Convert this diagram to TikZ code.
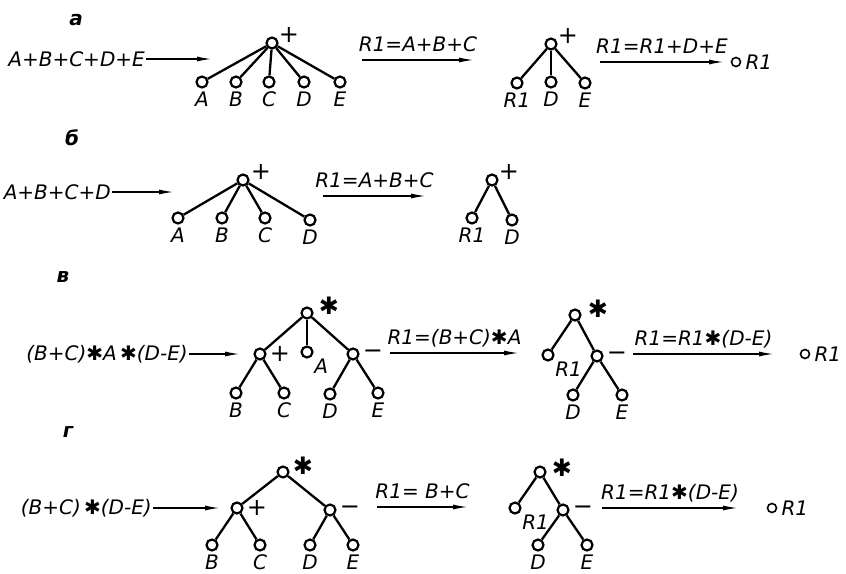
\documentclass[tikz,border=0pt]{standalone}
\usepackage{fontspec}
\setmainfont{DejaVu Sans}
\usetikzlibrary{positioning, arrows.meta}

\begin{document}
\begin{tikzpicture}[x=1pt, y=-1pt, font=\fontsize{20}{23}\selectfont\itshape,
    every node/.style={inner sep=1pt},
    label distance=2pt,
    tnode/.style={circle, draw, line width=2.2pt, inner sep=0pt, minimum size=11pt},
    res/.style={circle, draw, line width=1.6pt, inner sep=0pt, minimum size=9pt},
    op/.style={inner sep=0pt, font=\fontsize{24}{26}\selectfont},
    sec/.style={font=\fontsize{20}{23}\selectfont\bfseries\itshape},
    edge/.style={line width=2.3pt},
    arr/.style={line width=1.5pt, -{Latex[length=15pt,width=5pt]}},
    lab/.style={above=7pt, text depth=0pt}]
  \useasboundingbox (0,0) rectangle (846,573);

  % a
  \node[sec] (la) at (76,20) {а};
  \node[anchor=east] (ea) at (146,59) {A+B+C+D+E};
  \coordinate (ea1) at (212,59);
  \draw[arr] (ea) -- (ea1);
  \node[tnode] (ar) at (272,43) {};
  \node[op] (aop) at (289,35) {+};
  \node[tnode, label=below:A] (aa) at (202,82) {};
  \node[tnode, label=below:B] (ab) at (236,82) {};
  \node[tnode, label=below:C] (ac) at (269,82) {};
  \node[tnode, label=below:D] (ad) at (304,82) {};
  \node[tnode, label=below:E] (ae) at (340,82) {};
  \foreach \n in {aa,ab,ac,ad,ae}
    \draw[edge] (ar) -- (\n);
  \coordinate (am1) at (362,60);
  \coordinate (am2) at (474,60);
  \draw[arr] (am1) -- node[lab] {R1=A+B+C} (am2);
  \node[tnode] (br) at (551,44) {};
  \node[op] (bop) at (568,36) {+};
  \node[tnode, label=below:R1] (b1) at (517,83) {};
  \node[tnode, label=below:D] (bd) at (551,82) {};
  \node[tnode, label=below:E] (be) at (585,83) {};
  \foreach \n in {b1,bd,be}
    \draw[edge] (br) -- (\n);
  \coordinate (am3) at (600,62);
  \coordinate (am4) at (724,62);
  \draw[arr] (am3) -- node[lab] {R1=R1+D+E} (am4);
  \node[res] (ares) at (736,62) {};
  \node[right=3pt of ares] (ares1) {R1};

  % b
  \node[sec] (lb) at (72,138) {б};
  \node[anchor=east] (eb) at (112,192) {A+B+C+D};
  \coordinate (eb1) at (174,192);
  \draw[arr] (eb) -- (eb1);
  \node[tnode] (cr) at (243,180) {};
  \node[op] (cop) at (261,172) {+};
  \node[tnode, label=below:A] (ca) at (178,218) {};
  \node[tnode, label=below:B] (cb) at (222,218) {};
  \node[tnode, label=below:C] (cc) at (265,218) {};
  \node[tnode, label=below:D] (cd) at (310,220) {};
  \foreach \n in {ca,cb,cc,cd}
    \draw[edge] (cr) -- (\n);
  \coordinate (bm1) at (323,196);
  \coordinate (bm2) at (426,196);
  \draw[arr] (bm1) -- node[lab] {R1=A+B+C} (bm2);
  \node[tnode] (dr) at (492,180) {};
  \node[op] (dop) at (509,172) {+};
  \node[tnode, label=below:R1] (d1) at (472,218) {};
  \node[tnode, label=below:D] (dd) at (512,220) {};
  \foreach \n in {d1,dd}
    \draw[edge] (dr) -- (\n);

  % v
  \node[sec] (lv) at (63,277) {в};
  \node[anchor=east] (ev) at (189,354) {(B+C)✱A\,✱(D-E)};
  \coordinate (ev1) at (240,354);
  \draw[arr] (ev) -- (ev1);
  \node[tnode] (vr) at (307,313) {};
  \node[op] (vop) at (329,306) {✱};
  \node[tnode] (v1) at (260,354) {};
  \node[op, right=3pt of v1] (v1op) {+};
  \node[tnode, label={below right:A}] (va) at (307,352) {};
  \node[tnode] (v2) at (353,354) {};
  \node[op, right=3pt of v2] (v2op) {−};
  \node[tnode, label=below:B] (vb) at (236,393) {};
  \node[tnode, label=below:C] (vc) at (284,393) {};
  \node[tnode, label=below:D] (vd) at (330,394) {};
  \node[tnode, label=below:E] (ve) at (378,393) {};
  \foreach \a/\b in {vr/v1,vr/va,vr/v2,v1/vb,v1/vc,v2/vd,v2/ve}
    \draw[edge] (\a) -- (\b);
  \coordinate (vm1) at (390,353);
  \coordinate (vm2) at (519,353);
  \draw[arr] (vm1) -- node[lab] {R1=(B+C)✱A} (vm2);
  \node[tnode] (wr) at (575,315) {};
  \node[op] (wop) at (598,309) {✱};
  \node[tnode, label={below right:R1}] (w1) at (548,355) {};
  \node[tnode] (w2) at (597,356) {};
  \node[op, right=3pt of w2] (w2op) {−};
  \node[tnode, label=below:D] (wd) at (573,395) {};
  \node[tnode, label=below:E] (we) at (622,395) {};
  \foreach \a/\b in {wr/w1,wr/w2,w2/wd,w2/we}
    \draw[edge] (\a) -- (\b);
  \coordinate (vm3) at (633,354);
  \coordinate (vm4) at (774,354);
  \draw[arr] (vm3) -- node[lab] {R1=R1✱(D-E)} (vm4);
  \node[res] (vres) at (805,354) {};
  \node[right=3pt of vres] (vres1) {R1};

  % g
  \node[sec] (lg) at (68,432) {г};
  \node[anchor=east] (eg) at (153,508) {(B+C)\,✱(D-E)};
  \coordinate (eg1) at (220,508);
  \draw[arr] (eg) -- (eg1);
  \node[tnode] (gr) at (283,472) {};
  \node[op] (gop) at (303,466) {✱};
  \node[tnode] (g1) at (237,508) {};
  \node[op, right=3pt of g1] (g1op) {+};
  \node[tnode] (g2) at (330,510) {};
  \node[op, right=3pt of g2] (g2op) {−};
  \node[tnode, label=below:B] (gb) at (212,545) {};
  \node[tnode, label=below:C] (gc) at (260,545) {};
  \node[tnode, label=below:D] (gd) at (310,545) {};
  \node[tnode, label=below:E] (ge) at (353,545) {};
  \foreach \a/\b in {gr/g1,gr/g2,g1/gb,g1/gc,g2/gd,g2/ge}
    \draw[edge] (\a) -- (\b);
  \coordinate (gm1) at (377,507);
  \coordinate (gm2) at (468,507);
  \draw[arr] (gm1) -- node[lab] {R1= B+C} (gm2);
  \node[tnode] (hr) at (540,472) {};
  \node[op] (hop) at (562,468) {✱};
  \node[tnode, label={below right:R1}] (h1) at (515,508) {};
  \node[tnode] (h2) at (563,510) {};
  \node[op, right=3pt of h2] (h2op) {−};
  \node[tnode, label=below:D] (hd) at (538,545) {};
  \node[tnode, label=below:E] (he) at (587,545) {};
  \foreach \a/\b in {hr/h1,hr/h2,h2/hd,h2/he}
    \draw[edge] (\a) -- (\b);
  \coordinate (gm3) at (602,508);
  \coordinate (gm4) at (738,508);
  \draw[arr] (gm3) -- node[lab] {R1=R1✱(D-E)} (gm4);
  \node[res] (gres) at (772,508) {};
  \node[right=3pt of gres] (gres1) {R1};
\end{tikzpicture}
\end{document}
